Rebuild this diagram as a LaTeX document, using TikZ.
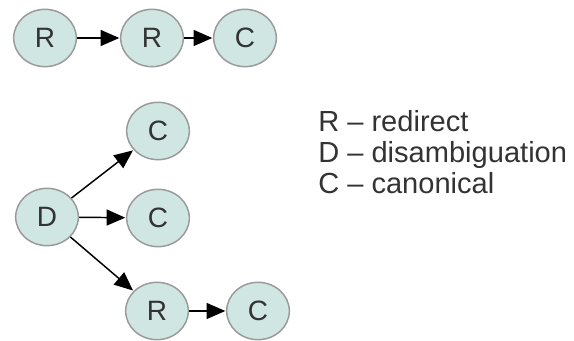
\documentclass[tikz,border=0pt]{standalone}
\usepackage{fontspec}
\setmainfont{Liberation Sans}
\usetikzlibrary{shapes.geometric,arrows.meta}
\definecolor{nodefill}{HTML}{CFE6E3}
\definecolor{nodeborder}{HTML}{9A9A9A}
\definecolor{txt}{HTML}{333333}
\tikzset{
  state/.style={ellipse, draw=nodeborder, line width=1.1pt, fill=nodefill,
    minimum width=47pt, minimum height=43pt, inner sep=0pt,
    text=txt, font=\fontsize{21}{24}\selectfont},
  link/.style={-{Triangle[length=14pt,width=12pt]}, line width=1.1pt, black, shorten >=0.5pt},
  legend/.style={anchor=base west, text=txt, font=\fontsize{21.8}{24}\selectfont, inner sep=0pt}
}
\begin{document}
\begin{tikzpicture}[x=0.75pt,y=-0.75pt]
\useasboundingbox (0,0) rectangle (574,341);
\node[state] (r1) at (45,38) {R};
\node[state] (r2) at (152,38) {R};
\node[state] (c1) at (245,38) {C};
\node[state] (d) at (47,217) {D};
\node[state] (ct) at (158,131) {C};
\node[state] (cm) at (158,218) {C};
\node[state] (rb) at (157,311) {R};
\node[state] (cb) at (258,311) {C};
\draw[link] (r1) -- (r2);
\draw[link] (r2) -- (c1);
\draw[link] (d) -- (ct);
\draw[link] (d) -- (cm);
\draw[link] (d) -- (rb);
\draw[link] (rb) -- (cb);
\node[legend] (l1) at (318,132) {R – redirect};
\node[legend] (l2) at (318,163) {D – disambiguation};
\node[legend] (l3) at (318,194) {C – canonical};
\end{tikzpicture}
\end{document}
